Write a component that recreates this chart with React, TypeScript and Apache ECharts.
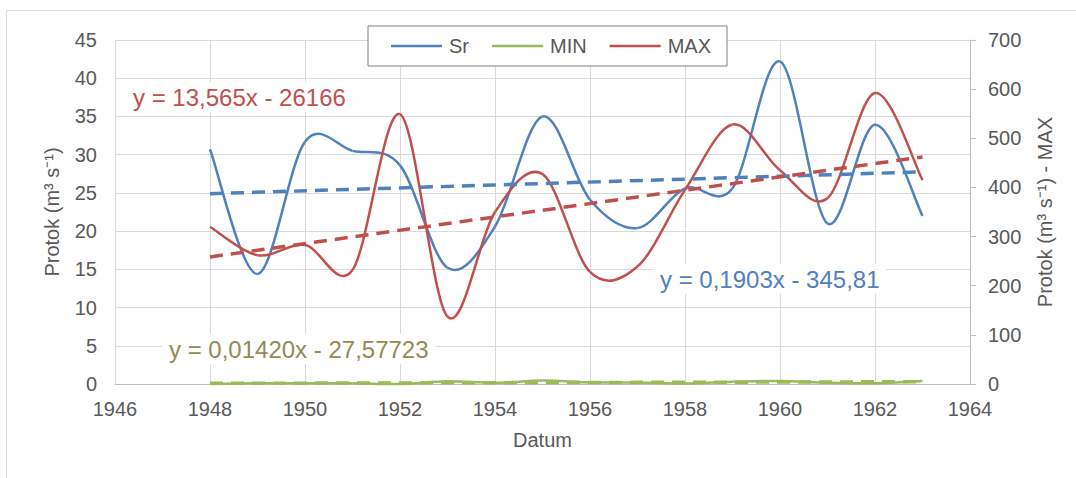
import React, { useEffect, useRef } from "react";
import * as echarts from "echarts";

// ---- data ----
const years = [1948, 1949, 1950, 1951, 1952, 1953, 1954, 1955, 1956, 1957, 1958, 1959, 1960, 1961, 1962, 1963];
const srValues = [30.7, 14.4, 31.7, 30.5, 28.6, 15.2, 20.6, 35.0, 24.1, 20.4, 25.6, 25.6, 42.2, 21.0, 33.9, 22.0];
const minValues = [0.0, 0.1, 0.1, 0.1, 0.0, 0.35, 0.15, 0.45, 0.2, 0.2, 0.05, 0.3, 0.4, 0.15, 0.1, 0.4];
const maxValues = [320, 262, 283, 232, 549, 137, 350, 427, 228, 239, 395, 528, 435, 378, 592, 415];

const seriesNames = ["Sr", "MIN", "MAX"];

// trend line coefficients (as printed on the chart)
const srTrend = { slope: 0.1903, intercept: -345.81, text: "y = 0,1903x - 345,81" };
const minTrend = { slope: 0.0142, intercept: -27.57723, text: "y = 0,01420x - 27,57723" };
const maxTrend = { slope: 13.565, intercept: -26166, text: "y = 13,565x - 26166" };

// axes
const xRange = { min: 1946, max: 1964, step: 2 };
const leftRange = { min: 0, max: 45, step: 5 };
const rightRange = { min: 0, max: 700, step: 100 };

const axisTitleX = "Datum";
const axisTitleLeft = "Protok (m³ s⁻¹)";
const axisTitleRight = "Protok (m³ s⁻¹) - MAX";

const BLUE = "#4F81BD";
const RED = "#C0504D";
const GREEN = "#9BBB59";
const OLIVE = "#948A54";
const TXT = "#595959";
const FONT = "'Liberation Sans', Arial, sans-serif";

const pairs = (vals: number[]) => years.map((y, i) => [y, vals[i]]);
const trendPairs = (t: { slope: number; intercept: number }) => {
  const a = years[0];
  const b = years[years.length - 1];
  return [
    [a, t.slope * a + t.intercept],
    [b, t.slope * b + t.intercept],
  ];
};

// smoothed line (Catmull-Rom through every data point, like a spreadsheet "smoothed line")
const curveSeries = (name: string, vals: number[], yAxisIndex: number, color: string) => ({
  name,
  type: "custom",
  coordinateSystem: "cartesian2d",
  yAxisIndex,
  data: pairs(vals),
  encode: { x: 0, y: 1 },
  itemStyle: { color },
  renderItem: (params: any, api: any) => {
    const i = params.dataIndex;
    const n = vals.length;
    if (i >= n - 1) return { type: "group", children: [] };
    const pt = (j: number) => {
      const k = Math.max(0, Math.min(n - 1, j));
      return api.coord([years[k], vals[k]]);
    };
    const p0 = pt(i - 1);
    const p1 = pt(i);
    const p2 = pt(i + 1);
    const p3 = pt(i + 2);
    return {
      type: "bezierCurve",
      shape: {
        x1: p1[0],
        y1: p1[1],
        x2: p2[0],
        y2: p2[1],
        cpx1: p1[0] + (p2[0] - p0[0]) / 6,
        cpy1: p1[1] + (p2[1] - p0[1]) / 6,
        cpx2: p2[0] - (p3[0] - p1[0]) / 6,
        cpy2: p2[1] - (p3[1] - p1[1]) / 6,
      },
      style: { stroke: color, lineWidth: 2.5, fill: "none" },
      silent: true,
    };
  },
});

export default function App() {
  const ref = useRef<HTMLDivElement>(null);
  useEffect(() => {
    if (!ref.current) return;
    const chart = echarts.init(ref.current, null, { renderer: "svg" });
    const dash = [13, 8];
    const eqText = (x: number, y: number, text: string, color: string) => ({
      type: "text",
      x,
      y,
      z: 100,
      style: {
        text,
        fill: color,
        font: `24px ${FONT}`,
        verticalAlign: "middle",
        backgroundColor: "#ffffff",
        padding: [3, 7, 3, 7],
      },
    });
    chart.setOption({
      animation: false,
      textStyle: { fontFamily: FONT },
      grid: { left: 115, right: 106, top: 40, bottom: 94 },
      legend: {
        data: seriesNames,
        left: 368,
        top: 26,
        padding: [10, 16, 10, 23],
        itemGap: 23,
        itemWidth: 51,
        itemHeight: 2.5,
        icon: "rect",
        backgroundColor: "#ffffff",
        borderColor: "#808080",
        borderWidth: 1,
        textStyle: { color: TXT, fontSize: 20, fontFamily: FONT, padding: [0, 0, 0, 2] },
      },
      xAxis: {
        type: "value",
        min: xRange.min,
        max: xRange.max,
        interval: xRange.step,
        name: axisTitleX,
        nameLocation: "middle",
        nameGap: 46,
        nameTextStyle: { color: TXT, fontSize: 20, fontFamily: FONT },
        axisLine: { show: true, lineStyle: { color: "#bfbfbf", width: 1 } },
        axisTick: { show: false },
        axisLabel: {
          color: TXT,
          fontSize: 20,
          margin: 15,
          fontFamily: FONT,
          formatter: (v: number) => String(v),
        },
        splitLine: { show: true, lineStyle: { color: "#d9d9d9", width: 1 } },
      },
      yAxis: [
        {
          type: "value",
          min: leftRange.min,
          max: leftRange.max,
          interval: leftRange.step,
          name: axisTitleLeft,
          nameLocation: "middle",
          nameRotate: 90,
          nameGap: 53,
          nameTextStyle: { color: TXT, fontSize: 20, fontFamily: FONT },
          axisLine: { show: false },
          axisTick: { show: false },
          axisLabel: { color: TXT, fontSize: 20, margin: 18, fontFamily: FONT },
          splitLine: { show: true, lineStyle: { color: "#d9d9d9", width: 1 } },
        },
        {
          type: "value",
          position: "right",
          min: rightRange.min,
          max: rightRange.max,
          interval: rightRange.step,
          name: axisTitleRight,
          nameLocation: "middle",
          nameRotate: 90,
          nameGap: 65,
          nameTextStyle: { color: TXT, fontSize: 20, fontFamily: FONT },
          axisLine: { show: true, lineStyle: { color: "#bfbfbf", width: 1 } },
          axisTick: { show: true, length: 6, lineStyle: { color: "#bfbfbf" } },
          axisLabel: { color: TXT, fontSize: 20, margin: 18, fontFamily: FONT },
          splitLine: { show: false },
        },
      ],
      series: [
        curveSeries("Sr", srValues, 0, BLUE),
        curveSeries("MIN", minValues, 0, GREEN),
        curveSeries("MAX", maxValues, 1, RED),
        {
          name: "Sr trend",
          type: "line",
          yAxisIndex: 0,
          data: trendPairs(srTrend),
          symbol: "none",
          z: 3,
          lineStyle: { color: BLUE, width: 3.5, type: dash },
        },
        {
          name: "MIN trend",
          type: "line",
          yAxisIndex: 0,
          data: trendPairs(minTrend),
          symbol: "none",
          z: 3,
          lineStyle: { color: GREEN, width: 3.5, type: dash },
        },
        {
          name: "MAX trend",
          type: "line",
          yAxisIndex: 1,
          data: trendPairs(maxTrend),
          symbol: "none",
          z: 3,
          lineStyle: { color: RED, width: 3.5, type: dash },
        },
      ],
      graphic: [
        {
          type: "rect",
          silent: true,
          z: -10,
          shape: { x: 6.5, y: 10.5, width: 1100, height: 500 },
          style: { fill: "none", stroke: "#d9d9d9", lineWidth: 1 },
        },
        eqText(126, 97, maxTrend.text, RED),
        eqText(653, 279, srTrend.text, BLUE),
        eqText(162, 349, minTrend.text, OLIVE),
      ],
    });
    return () => chart.dispose();
  }, []);
  return (
    <div
      ref={ref}
      style={{ position: "absolute", left: 0, top: 0, width: 1076, height: 478 }}
    />
  );
}
